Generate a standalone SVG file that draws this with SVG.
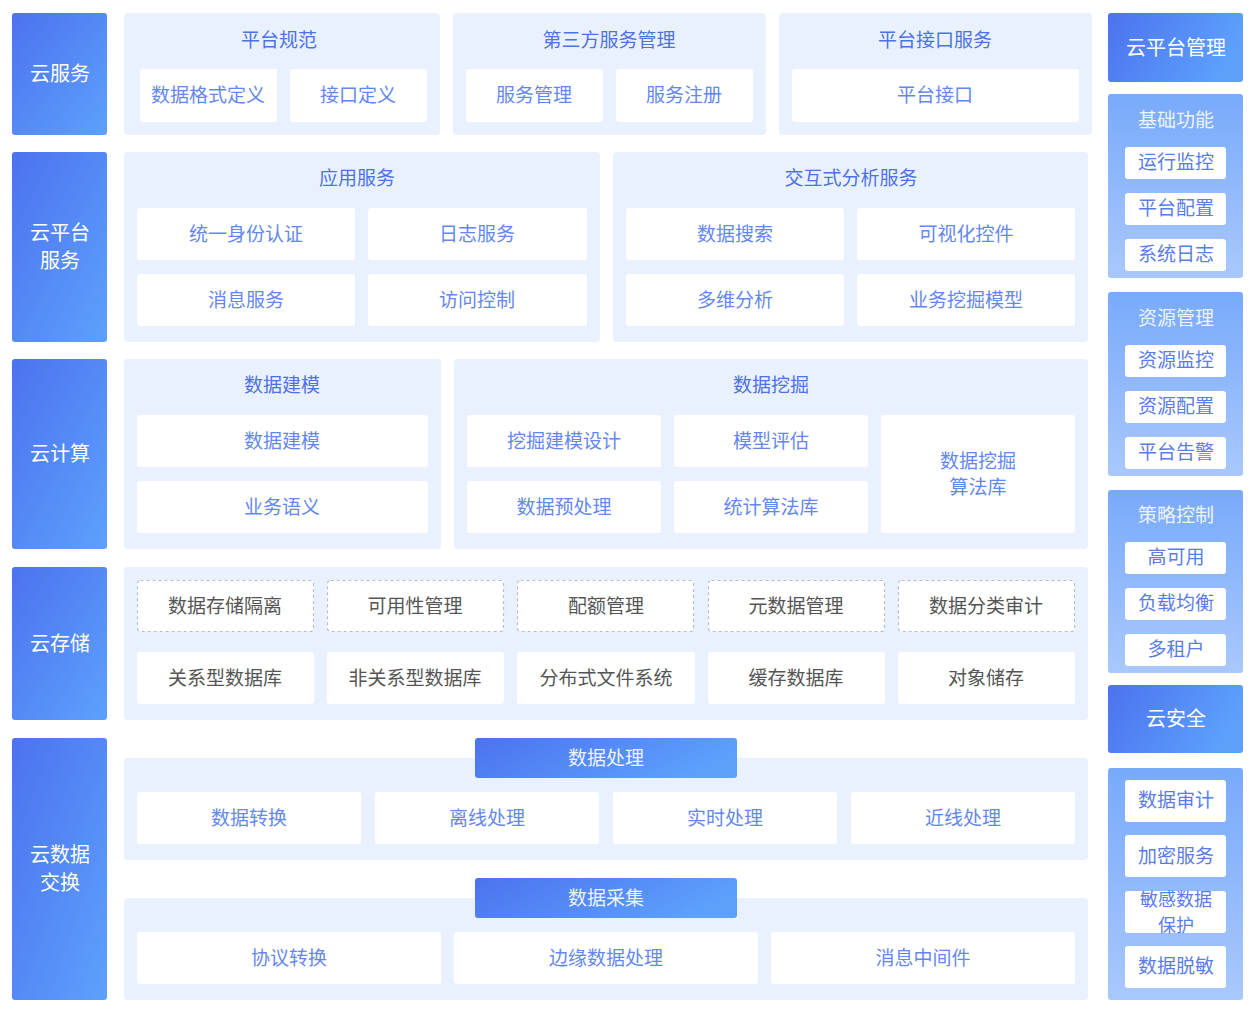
<svg xmlns="http://www.w3.org/2000/svg" width="1252" height="1016" viewBox="0 0 1252 1016">
<defs>
<linearGradient id="gL" x1="0" y1="0" x2="1" y2="1">
<stop offset="0" stop-color="#4c72ef"/><stop offset="1" stop-color="#5da1fc"/>
</linearGradient>
<linearGradient id="gH" x1="0" y1="0" x2="1" y2="0.3">
<stop offset="0" stop-color="#4c72ef"/><stop offset="1" stop-color="#5ca0fc"/>
</linearGradient>
<linearGradient id="gR" x1="0" y1="0" x2="0" y2="1">
<stop offset="0" stop-color="#78aafb"/><stop offset="1" stop-color="#a9c8fd"/>
</linearGradient>
<style>
text{font-family:"Noto Sans CJK SC","Noto Sans",sans-serif;text-anchor:middle;dominant-baseline:central;transform:translateY(-1.5px)}
.side{fill:url(#gL)}
.hdr{fill:url(#gH)}
.panel{fill:#e9f1fe}
.rp{fill:url(#gR)}
.box{fill:#ffffff}
.dbox{fill:#ffffff;stroke:#bdbdbd;stroke-width:1.2;stroke-dasharray:3 3}
.st{fill:#ffffff;font-size:20px}
.ti{fill:#4d72e6;font-size:19px}
.bt{fill:#6487ee;font-size:19px}
.gt{fill:#555555;font-size:19px}
.rt{fill:#eef4ff;font-size:19px}
.rbt{fill:#5a7ce6;font-size:19px}
.sm{font-size:18px}
</style>
</defs>

<g id="left-column">
<g id="yunfuwu"><rect class="side" x="12" y="13" width="95" height="122" rx="3"/><text class="st" x="60" y="74">云服务</text></g>
<g id="yunpingtaifuwu"><rect class="side" x="12" y="152" width="95" height="190" rx="3"/><text class="st" x="60" y="233">云平台</text><text class="st" x="60" y="261">服务</text></g>
<g id="yunjisuan"><rect class="side" x="12" y="359" width="95" height="190" rx="3"/><text class="st" x="60" y="454">云计算</text></g>
<g id="yuncunchu"><rect class="side" x="12" y="567" width="95" height="153" rx="3"/><text class="st" x="60" y="644">云存储</text></g>
<g id="yunshujujiaohuan"><rect class="side" x="12" y="738" width="95" height="262" rx="3"/><text class="st" x="60" y="855">云数据</text><text class="st" x="60" y="883">交换</text></g>
</g>

<g id="row1">
<g id="pingtaiguifan"><rect class="panel" x="124" y="13" width="316" height="122" rx="4"/><text class="ti" x="279" y="40">平台规范</text>
<rect class="box" x="140" y="69" width="137" height="53" rx="3"/><text class="bt" x="208" y="95">数据格式定义</text>
<rect class="box" x="290" y="69" width="137" height="53" rx="3"/><text class="bt" x="358" y="95">接口定义</text></g>
<g id="disanfang"><rect class="panel" x="453" y="13" width="313" height="122" rx="4"/><text class="ti" x="609" y="40">第三方服务管理</text>
<rect class="box" x="466" y="69" width="137" height="53" rx="3"/><text class="bt" x="534" y="95">服务管理</text>
<rect class="box" x="616" y="69" width="137" height="53" rx="3"/><text class="bt" x="684" y="95">服务注册</text></g>
<g id="pingtaijiekou"><rect class="panel" x="779" y="13" width="313" height="122" rx="4"/><text class="ti" x="935" y="40">平台接口服务</text>
<rect class="box" x="792" y="69" width="287" height="53" rx="3"/><text class="bt" x="935" y="95">平台接口</text></g>
</g>

<g id="row2">
<g id="yingyongfuwu"><rect class="panel" x="124" y="152" width="476" height="190" rx="4"/><text class="ti" x="357" y="178">应用服务</text>
<rect class="box" x="137" y="208" width="218" height="52" rx="3"/><text class="bt" x="246" y="234">统一身份认证</text>
<rect class="box" x="368" y="208" width="219" height="52" rx="3"/><text class="bt" x="477" y="234">日志服务</text>
<rect class="box" x="137" y="274" width="218" height="52" rx="3"/><text class="bt" x="246" y="300">消息服务</text>
<rect class="box" x="368" y="274" width="219" height="52" rx="3"/><text class="bt" x="477" y="300">访问控制</text></g>
<g id="jiaohushi"><rect class="panel" x="613" y="152" width="475" height="190" rx="4"/><text class="ti" x="851" y="178">交互式分析服务</text>
<rect class="box" x="626" y="208" width="218" height="52" rx="3"/><text class="bt" x="735" y="234">数据搜索</text>
<rect class="box" x="857" y="208" width="218" height="52" rx="3"/><text class="bt" x="966" y="234">可视化控件</text>
<rect class="box" x="626" y="274" width="218" height="52" rx="3"/><text class="bt" x="735" y="300">多维分析</text>
<rect class="box" x="857" y="274" width="218" height="52" rx="3"/><text class="bt" x="966" y="300">业务挖掘模型</text></g>
</g>

<g id="row3">
<g id="shujujianmo"><rect class="panel" x="124" y="359" width="317" height="190" rx="4"/><text class="ti" x="282" y="385">数据建模</text>
<rect class="box" x="137" y="415" width="291" height="52" rx="3"/><text class="bt" x="282" y="441">数据建模</text>
<rect class="box" x="137" y="481" width="291" height="52" rx="3"/><text class="bt" x="282" y="507">业务语义</text></g>
<g id="shujuwajue"><rect class="panel" x="454" y="359" width="634" height="190" rx="4"/><text class="ti" x="771" y="385">数据挖掘</text>
<rect class="box" x="467" y="415" width="194" height="52" rx="3"/><text class="bt" x="564" y="441">挖掘建模设计</text>
<rect class="box" x="674" y="415" width="194" height="52" rx="3"/><text class="bt" x="771" y="441">模型评估</text>
<rect class="box" x="467" y="481" width="194" height="52" rx="3"/><text class="bt" x="564" y="507">数据预处理</text>
<rect class="box" x="674" y="481" width="194" height="52" rx="3"/><text class="bt" x="771" y="507">统计算法库</text>
<rect class="box" x="881" y="415" width="194" height="118" rx="3"/><text class="bt" x="978" y="461">数据挖掘</text><text class="bt" x="978" y="487">算法库</text></g>
</g>

<g id="row4">
<g id="cunchu"><rect class="panel" x="124" y="567" width="964" height="153" rx="4"/>
<rect class="dbox" x="137.5" y="580.5" width="176" height="51" rx="3"/><text class="gt" x="225" y="606">数据存储隔离</text>
<rect class="dbox" x="327.5" y="580.5" width="176" height="51" rx="3"/><text class="gt" x="415" y="606">可用性管理</text>
<rect class="dbox" x="517.5" y="580.5" width="176" height="51" rx="3"/><text class="gt" x="606" y="606">配额管理</text>
<rect class="dbox" x="708.5" y="580.5" width="176" height="51" rx="3"/><text class="gt" x="796" y="606">元数据管理</text>
<rect class="dbox" x="898.5" y="580.5" width="176" height="51" rx="3"/><text class="gt" x="986" y="606">数据分类审计</text>
<rect class="box" x="137" y="652" width="177" height="52" rx="3"/><text class="gt" x="225" y="678">关系型数据库</text>
<rect class="box" x="327" y="652" width="177" height="52" rx="3"/><text class="gt" x="415" y="678">非关系型数据库</text>
<rect class="box" x="517" y="652" width="178" height="52" rx="3"/><text class="gt" x="606" y="678">分布式文件系统</text>
<rect class="box" x="708" y="652" width="177" height="52" rx="3"/><text class="gt" x="796" y="678">缓存数据库</text>
<rect class="box" x="898" y="652" width="177" height="52" rx="3"/><text class="gt" x="986" y="678">对象储存</text></g>
</g>

<g id="row5">
<g id="shujuchuli"><rect class="panel" x="124" y="758" width="964" height="102" rx="4"/>
<rect class="hdr" x="475" y="738" width="262" height="40" rx="3"/><text class="rt" x="606" y="758">数据处理</text>
<rect class="box" x="137" y="792" width="224" height="52" rx="3"/><text class="bt" x="249" y="818">数据转换</text>
<rect class="box" x="375" y="792" width="224" height="52" rx="3"/><text class="bt" x="487" y="818">离线处理</text>
<rect class="box" x="613" y="792" width="224" height="52" rx="3"/><text class="bt" x="725" y="818">实时处理</text>
<rect class="box" x="851" y="792" width="224" height="52" rx="3"/><text class="bt" x="963" y="818">近线处理</text></g>
<g id="shujucaiji"><rect class="panel" x="124" y="898" width="964" height="102" rx="4"/>
<rect class="hdr" x="475" y="878" width="262" height="40" rx="3"/><text class="rt" x="606" y="898">数据采集</text>
<rect class="box" x="137" y="932" width="304" height="52" rx="3"/><text class="bt" x="289" y="958">协议转换</text>
<rect class="box" x="454" y="932" width="304" height="52" rx="3"/><text class="bt" x="606" y="958">边缘数据处理</text>
<rect class="box" x="771" y="932" width="304" height="52" rx="3"/><text class="bt" x="923" y="958">消息中间件</text></g>
</g>

<g id="right-column">
<g id="yunpingtaiguanli"><rect class="hdr" x="1108" y="13" width="135" height="69" rx="3"/><text class="st" x="1176" y="48">云平台管理</text></g>
<g id="jichugongneng"><rect class="rp" x="1108" y="94" width="135" height="184" rx="3"/><text class="rt" x="1176" y="120">基础功能</text>
<rect class="box" x="1125" y="147" width="101" height="32" rx="3"/><text class="rbt" x="1176" y="162">运行监控</text>
<rect class="box" x="1125" y="193" width="101" height="32" rx="3"/><text class="rbt" x="1176" y="208">平台配置</text>
<rect class="box" x="1125" y="239" width="101" height="32" rx="3"/><text class="rbt" x="1176" y="254">系统日志</text></g>
<g id="ziyuanguanli"><rect class="rp" x="1108" y="292" width="135" height="184" rx="3"/><text class="rt" x="1176" y="318">资源管理</text>
<rect class="box" x="1125" y="345" width="101" height="32" rx="3"/><text class="rbt" x="1176" y="360">资源监控</text>
<rect class="box" x="1125" y="391" width="101" height="32" rx="3"/><text class="rbt" x="1176" y="406">资源配置</text>
<rect class="box" x="1125" y="437" width="101" height="32" rx="3"/><text class="rbt" x="1176" y="452">平台告警</text></g>
<g id="celuekongzhi"><rect class="rp" x="1108" y="490" width="135" height="183" rx="3"/><text class="rt" x="1176" y="515">策略控制</text>
<rect class="box" x="1125" y="542" width="101" height="32" rx="3"/><text class="rbt" x="1176" y="557">高可用</text>
<rect class="box" x="1125" y="588" width="101" height="32" rx="3"/><text class="rbt" x="1176" y="603">负载均衡</text>
<rect class="box" x="1125" y="634" width="101" height="32" rx="3"/><text class="rbt" x="1176" y="649">多租户</text></g>
<g id="yunanquan"><rect class="hdr" x="1108" y="685" width="135" height="68" rx="3"/><text class="st" x="1176" y="719">云安全</text></g>
<g id="anquan-items"><rect class="rp" x="1108" y="768" width="135" height="232" rx="3"/>
<rect class="box" x="1125" y="780" width="101" height="42" rx="3"/><text class="rbt" x="1176" y="800">数据审计</text>
<rect class="box" x="1125" y="835" width="101" height="42" rx="3"/><text class="rbt" x="1176" y="856">加密服务</text>
<rect class="box" x="1125" y="891" width="101" height="42" rx="3"/><text class="rbt sm" x="1176" y="899">敏感数据</text><text class="rbt sm" x="1176" y="925">保护</text>
<rect class="box" x="1125" y="946" width="101" height="42" rx="3"/><text class="rbt" x="1176" y="966">数据脱敏</text></g>
</g>

<g id="connectors"/>
</svg>
